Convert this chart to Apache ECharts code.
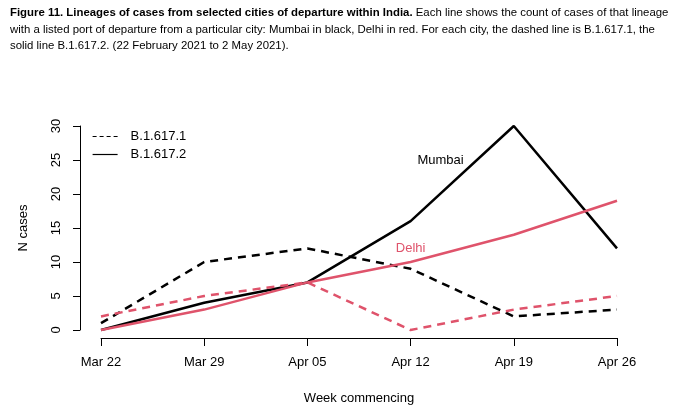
<!DOCTYPE html>
<html><head><meta charset="utf-8">
<script src="https://cdn.jsdelivr.net/npm/echarts@6/dist/echarts.min.js"></script>
<style>html,body{margin:0;padding:0;background:#fff}#c{width:680px;height:417px}</style>
</head><body><div id="c"></div>
<script>
const weeks = ['Mar 22','Mar 29','Apr 05','Apr 12','Apr 19','Apr 26'];
const mumbai_1 = [1, 10, 12, 9, 2, 3];
const mumbai_2 = [0, 4, 7, 16, 30, 12];
const delhi_1 = [2, 5, 7, 0, 3, 5];
const delhi_2 = [0, 3, 7, 10, 14, 19];
const yTicks = [0, 5, 10, 15, 20, 25, 30];

const BLACK = '#000000', RED = '#DF536B';
const F = 'Helvetica, Arial, "Liberation Sans", sans-serif';
const pts = arr => arr.map((v, i) => [i, v]);

const chart = echarts.init(document.getElementById('c'), null, {renderer: 'canvas'});
chart.setOption({
  animation: false,
  title: {
    left: 10, top: 5, padding: 0,
    text: '{b|Figure 11. Lineages of cases from selected cities of departure within India.} Each line shows the count of cases of that lineage\nwith a listed port of departure from a particular city: Mumbai in black, Delhi in red. For each city, the dashed line is B.1.617.1, the\nsolid line B.1.617.2. (22 February 2021 to 2 May 2021).',
    textStyle: {
      fontFamily: F, fontSize: 11.4, fontWeight: 'normal', color: '#000', lineHeight: 16.5,
      rich: { b: { fontWeight: 'bold', fontFamily: F, fontSize: 11.4, color: '#000', lineHeight: 16.5 } }
    }
  },
  legend: {
    show: true, left: 87, top: 125, orient: 'vertical', itemGap: 5, itemWidth: 25, itemHeight: 10,
    data: [{name: 'B.1.617.1', lineStyle: {type: [4, 3], width: 1.2}}, {name: 'B.1.617.2'}],
    textStyle: {fontFamily: F, fontSize: 13, color: '#000', padding: [0, 0, 0, 8]},
    itemStyle: {opacity: 0},
    lineStyle: {width: 1.2},
    selectedMode: false
  },
  grid: [
    {left: 101, right: 63, top: 126, bottom: 87},
    {left: 101, right: 63, top: 126, bottom: 79},
    {left: 80, right: 63, top: 126, bottom: 87}
  ],
  xAxis: [
    {gridIndex: 0, type: 'value', min: 0, max: 5, show: false},
    {gridIndex: 1, type: 'value', min: 0, max: 5, interval: 1,
     name: 'Week commencing', nameLocation: 'middle', nameGap: 54,
     nameTextStyle: {fontFamily: F, fontSize: 13, color: '#000'},
     axisLine: {show: true, lineStyle: {color: '#000', width: 1}},
     axisTick: {show: true, length: 8, lineStyle: {color: '#000'}},
     axisLabel: {fontFamily: F, fontSize: 13, color: '#000', margin: 18, formatter: v => weeks[v] || ''},
     splitLine: {show: false}},
    {gridIndex: 2, type: 'value', min: 0, max: 5, show: false}
  ],
  yAxis: [
    {gridIndex: 0, type: 'value', min: 0, max: 30, show: false},
    {gridIndex: 1, type: 'value', min: 0, max: 30, show: false},
    {gridIndex: 2, type: 'value', min: 0, max: 30, interval: 5,
     name: 'N cases', nameLocation: 'middle', nameGap: 50, nameRotate: 90,
     nameTextStyle: {fontFamily: F, fontSize: 13, color: '#000'},
     axisLine: {show: true, lineStyle: {color: '#000', width: 1}},
     axisTick: {show: true, length: 7, lineStyle: {color: '#000'}},
     axisLabel: {fontFamily: F, fontSize: 13, color: '#000', rotate: 90, margin: 17,
       formatter: v => yTicks.includes(v) ? String(v) : ''},
     splitLine: {show: false}}
  ],
  series: [
    {name: 'B.1.617.1', type: 'line', xAxisIndex: 0, yAxisIndex: 0, data: pts(mumbai_1), symbol: 'none', clip: false,
     lineStyle: {color: BLACK, width: 2.5, type: [8, 6]}, itemStyle: {color: BLACK}},
    {name: 'B.1.617.2', type: 'line', xAxisIndex: 0, yAxisIndex: 0, data: pts(mumbai_2), symbol: 'none', clip: false,
     lineStyle: {color: BLACK, width: 2.5}, itemStyle: {color: BLACK},
     markPoint: {symbol: 'circle', symbolSize: 1, itemStyle: {color: 'rgba(0,0,0,0)'},
       data: [{coord: [3.29, 25], label: {show: true, position: 'inside', formatter: 'Mumbai', color: BLACK, fontFamily: F, fontSize: 13}}]}},
    {name: 'Delhi 1', type: 'line', xAxisIndex: 0, yAxisIndex: 0, data: pts(delhi_1), symbol: 'none', clip: false,
     lineStyle: {color: RED, width: 2.5, type: [8, 6]}, itemStyle: {color: RED}},
    {name: 'Delhi 2', type: 'line', xAxisIndex: 0, yAxisIndex: 0, data: pts(delhi_2), symbol: 'none', clip: false,
     lineStyle: {color: RED, width: 2.5}, itemStyle: {color: RED},
     markPoint: {symbol: 'circle', symbolSize: 1, itemStyle: {color: 'rgba(0,0,0,0)'},
       data: [{coord: [3.0, 12], label: {show: true, position: 'inside', formatter: 'Delhi', color: RED, fontFamily: F, fontSize: 13}}]}}
  ]
});
</script></body></html>
